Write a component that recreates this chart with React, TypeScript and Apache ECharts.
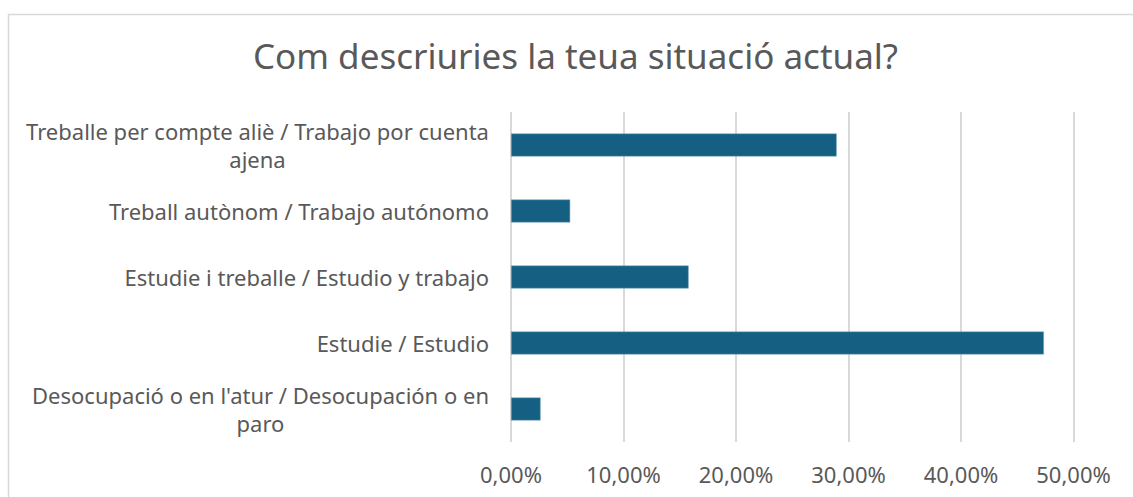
import React, { useEffect, useRef } from "react";
import * as echarts from "echarts";

const titleText = "Com descriuries la teua situació actual?";
const categories: string[][] = [
  ["Treballe per compte aliè / Trabajo por cuenta", "ajena"],
  ["Treball autònom / Trabajo autónomo"],
  ["Estudie i treballe / Estudio y trabajo"],
  ["Estudie / Estudio"],
  ["Desocupació o en l'atur / Desocupación o en", "paro"],
];
const values: number[] = [0.2895, 0.0526, 0.1579, 0.4737, 0.0263];
const axisMin = 0;
const axisMax = 0.5;
const axisStep = 0.1;

const FONT = '"Noto Sans", "DejaVu Sans", sans-serif';
const LABEL_SIZE = 22;
const TEXT_COLOR = "#595959";

function measure(text: string): number {
  const c = document.createElement("canvas").getContext("2d");
  if (!c) return text.length * 11;
  c.font = `${LABEL_SIZE}px "Noto Sans"`;
  return c.measureText(text).width;
}

export default function App() {
  const ref = useRef<HTMLDivElement>(null);
  useEffect(() => {
    if (!ref.current) return;
    const chart = echarts.init(ref.current, undefined, { renderer: "svg" });
    const rich: Record<string, any> = {};
    const names = categories.map((lines, i) => {
      if (lines.length === 1) return lines[0];
      const w = Math.ceil(Math.max(...lines.map(measure)));
      rich["c" + i] = {
        width: w,
        align: "center",
        fontSize: LABEL_SIZE,
        fontFamily: FONT,
        color: TEXT_COLOR,
        lineHeight: 28,
      };
      return lines.join("\n");
    });
    chart.setOption({
      animation: false,
      backgroundColor: "#ffffff",
      title: {
        text: titleText,
        left: 248,
        top: 33,
        padding: 5,
        textStyle: {
          fontFamily: FONT,
          fontSize: 35,
          fontWeight: "normal",
          color: TEXT_COLOR,
        },
      },
      graphic: [
        {
          type: "rect",
          shape: { x: 8.5, y: 14.5, width: 1300, height: 700 },
          style: { fill: "none", stroke: "#d9d9d9", lineWidth: 1.5 },
          silent: true,
        },
      ],
      grid: { left: 511, right: 59.5, top: 112, bottom: 55, containLabel: false },
      xAxis: {
        type: "value",
        min: axisMin,
        max: axisMax,
        interval: axisStep,
        axisLine: { show: false },
        axisTick: { show: false },
        splitLine: { show: true, lineStyle: { color: "#d9d9d9", width: 2 } },
        axisLabel: {
          margin: 21,
          fontFamily: FONT,
          fontSize: LABEL_SIZE,
          color: TEXT_COLOR,
          formatter: (v: number) => (v * 100).toFixed(2).replace(".", ",") + "%",
        },
      },
      yAxis: {
        type: "category",
        inverse: true,
        data: names,
        axisLine: { show: false },
        axisTick: { show: false },
        axisLabel: {
          margin: 22,
          fontFamily: FONT,
          fontSize: LABEL_SIZE,
          color: TEXT_COLOR,
          lineHeight: 28,
          align: "right",
          rich,
          formatter: (v: string) => {
            const i = names.indexOf(v);
            if (categories[i] && categories[i].length > 1) {
              return categories[i].map((l) => `{c${i}|${l}}`).join("\n");
            }
            return v;
          },
        },
      },
      series: [
        {
          type: "bar",
          data: values,
          barWidth: 23,
          itemStyle: { color: "#156082", borderColor: "#7fa9c0", borderWidth: 0.5 },
        },
      ],
    });
    return () => chart.dispose();
  }, []);
  return (
    <div
      ref={ref}
      style={{ position: "fixed", left: 0, top: 0, width: 1133, height: 497 }}
    />
  );
}
